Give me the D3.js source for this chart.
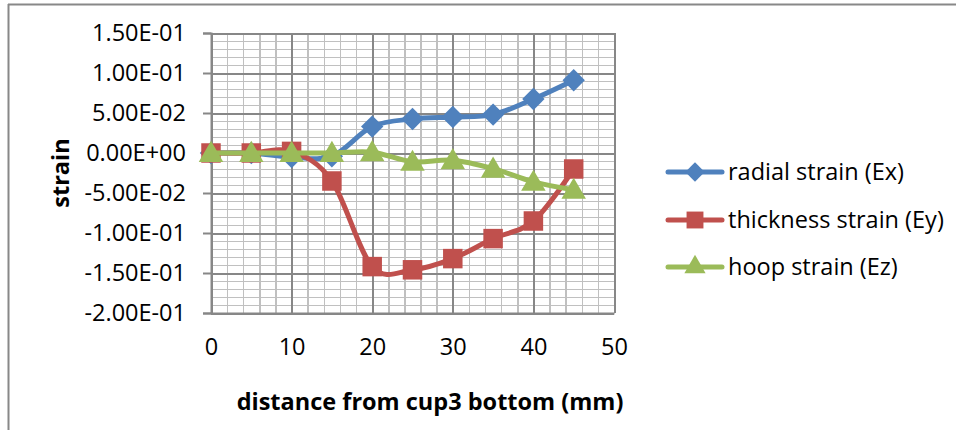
<!DOCTYPE html>
<html>
<head>
<meta charset="utf-8">
<script src="https://cdn.jsdelivr.net/npm/d3@7"></script>
<style>
    body { margin: 0; background: #fff; }
    text { font-family: 'Open Sans', sans-serif; fill: #000; }
    .grid line { shape-rendering: crispEdges; }
    .grid path { display: none; }
</style>
</head>
<body>
<script>
// Data
const distances = [0, 5, 10, 15, 20, 25, 30, 35, 40, 45];
const radialStrain = [0, 0, -0.005, -0.004, 0.033, 0.0425, 0.045, 0.048, 0.0675, 0.091];
const thicknessStrain = [0, 0, 0.002, -0.035, -0.142, -0.146, -0.132, -0.107, -0.085, -0.02];
const hoopStrain = [0, 0, 0, 0, 0.001, -0.011, -0.009, -0.0195, -0.036, -0.046];
const seriesNames = ['radial strain (Ex)', 'thickness strain (Ey)', 'hoop strain (Ez)'];
const xTicks = [0, 10, 20, 30, 40, 50];
const yTicks = [-0.2, -0.15, -0.1, -0.05, 0, 0.05, 0.1, 0.15];

const width = 956,
    height = 430;
const plot = { left: 211, top: 33, right: 614, bottom: 313 };
const fontSize = '23.5px';
const colors = ['#4F81BD', '#C0504D', '#9BBB59'];
const symbols = [d3.symbolSquare, d3.symbolSquare, d3.symbolTriangle];
const symbolSizes = [250, 380, 260];
const rotations = [45, 0, 0];

const series = [radialStrain, thicknessStrain, hoopStrain].map((vals, i) => ({
    name: seriesNames[i],
    color: colors[i],
    symbol: symbols[i],
    size: symbolSizes[i],
    rotate: rotations[i],
    points: vals.map((v, j) => ({ x: distances[j], y: v }))
}));

// Excel style scientific label, e.g. 1.50E-01
function sci(v) {
    if (Math.abs(v) < 1e-12) return '0.00E+00';
    let e = Math.floor(Math.log10(Math.abs(v)) + 1e-9);
    let m = v / Math.pow(10, e);
    return m.toFixed(2) + 'E' + (e < 0 ? '-' : '+') + String(Math.abs(e)).padStart(2, '0');
}

let x = d3.scaleLinear().domain([0, 50]).range([plot.left, plot.right]);
let y = d3.scaleLinear().domain([-0.2, 0.15]).range([plot.bottom, plot.top]);

let svg = d3
    .select('body')
    .append('svg')
    .attr('width', width)
    .attr('height', height);

// Outer frame (clipped figure border)
svg.append('line').attr('x1', 8).attr('x2', width).attr('y1', 4.5).attr('y2', 4.5)
    .attr('stroke', '#888').attr('stroke-width', 2);
svg.append('line').attr('x1', 8.5).attr('x2', 8.5).attr('y1', 4).attr('y2', height)
    .attr('stroke', '#888').attr('stroke-width', 2);

// Minor grid
svg.append('g')
    .attr('class', 'grid')
    .attr('transform', `translate(${plot.left}, 0)`)
    .call(d3.axisLeft(y).tickValues(d3.range(-0.2, 0.1501, 0.01)).tickSize(-(plot.right - plot.left)).tickFormat(''))
    .selectAll('line').attr('stroke', '#c0c0c0').attr('stroke-width', 1.5);

svg.append('g')
    .attr('class', 'grid')
    .attr('transform', `translate(0, ${plot.bottom})`)
    .call(d3.axisBottom(x).tickValues(d3.range(0, 50.01, 2)).tickSize(-(plot.bottom - plot.top)).tickFormat(''))
    .selectAll('line').attr('stroke', '#c0c0c0').attr('stroke-width', 1.5);

// Major grid
svg.append('g')
    .attr('class', 'grid')
    .attr('transform', `translate(${plot.left}, 0)`)
    .call(d3.axisLeft(y).tickValues(yTicks).tickSize(-(plot.right - plot.left)).tickFormat(''))
    .selectAll('line').attr('stroke', '#878787').attr('stroke-width', 2);

svg.append('g')
    .attr('class', 'grid')
    .attr('transform', `translate(0, ${plot.bottom})`)
    .call(d3.axisBottom(x).tickValues(xTicks).tickSize(-(plot.bottom - plot.top)).tickFormat(''))
    .selectAll('line').attr('stroke', '#878787').attr('stroke-width', 2);

// Set y-axis
let yAxis = svg.append('g').attr('transform', `translate(${plot.left}, 0)`);
yAxis.call(d3.axisLeft(y).tickValues(yTicks).tickSize(8).tickPadding(17).tickFormat(sci));
yAxis.select('.domain').attr('stroke', '#878787').attr('stroke-width', 2);
yAxis.selectAll('.tick line').attr('stroke', '#878787').attr('stroke-width', 2);
yAxis.selectAll('.tick text').style('font-size', fontSize).style('font-family', 'Open Sans');

// Set x-axis
let xAxis = svg.append('g').attr('transform', `translate(0, ${plot.bottom})`);
xAxis.call(d3.axisBottom(x).tickValues(xTicks).tickSize(0).tickPadding(25));
xAxis.select('.domain').attr('stroke', '#878787').attr('stroke-width', 2);
xAxis.selectAll('.tick text').style('font-size', fontSize).style('font-family', 'Open Sans');

// Axis titles
svg.append('text')
    .attr('text-anchor', 'middle')
    .attr('x', 430)
    .attr('y', 410)
    .style('font-size', fontSize)
    .style('font-weight', 'bold')
    .text('distance from cup3 bottom (mm)');

svg.append('text')
    .attr('text-anchor', 'middle')
    .attr('transform', 'rotate(-90)')
    .attr('x', -(plot.top + plot.bottom) / 2)
    .attr('y', 69)
    .style('font-size', fontSize)
    .style('font-weight', 'bold')
    .text('strain');

// Series lines and markers
let line = d3
    .line()
    .x(d => x(d.x))
    .y(d => y(d.y))
    .curve(d3.curveCardinal.tension(0));

series.forEach(s => {
    svg.append('path')
        .datum(s.points)
        .attr('d', line)
        .attr('fill', 'none')
        .attr('stroke', s.color)
        .attr('stroke-width', 5)
        .attr('stroke-linejoin', 'round');

    svg.selectAll(null)
        .data(s.points)
        .enter()
        .append('path')
        .attr('d', d3.symbol().type(s.symbol).size(s.size))
        .attr('transform', d => `translate(${x(d.x)}, ${y(d.y) + (s.symbol === d3.symbolTriangle ? 2 : 0)}) rotate(${s.rotate})`)
        .attr('fill', s.color);
});

// Legend
const legendRows = [172, 220, 267];
let legend = svg.selectAll('.legend').data(series).enter().append('g')
    .attr('class', 'legend')
    .attr('transform', (d, i) => `translate(668, ${legendRows[i]})`);

legend.append('line')
    .attr('x1', 0).attr('x2', 54)
    .attr('stroke', d => d.color)
    .attr('stroke-width', 5)
    .attr('stroke-linecap', 'round');

legend.append('path')
    .attr('d', d => d3.symbol().type(d.symbol).size(d.size * 0.75)())
    .attr('transform', d => `translate(27, 0) rotate(${d.rotate})`)
    .attr('fill', d => d.color);

legend.append('text')
    .attr('x', 60)
    .attr('dy', '0.35em')
    .style('font-size', fontSize)
    .text(d => d.name);
</script>
</body>
</html>
